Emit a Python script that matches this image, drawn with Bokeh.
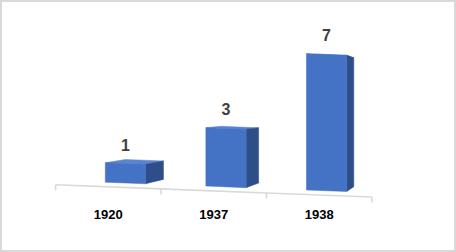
import numpy as np
from bokeh.plotting import figure
from bokeh.models import Range1d, FixedTicker, ColumnDataSource
from bokeh.embed import file_html
from bokeh.resources import INLINE
from bokeh.core.properties import value

# ---- data ----
categories = ["1920", "1937", "1938"]
counts = [1, 3, 7]

# ---- style (perspective of the 3-D look) ----
BAR_W = 0.40          # bar width in category units
TILT = 0.1995         # slope of the floor line (y units per category)
VP = (3.522, 4.135)   # vanishing point in data units
D_FRONT = 0.046       # depth fraction of bar front face
D_BACK = 0.0972       # depth fraction of bar back face
FRONT = "#4472C4"
SIDE = "#2E4E8A"
TOP = "#5A84CF"
GRID = "#D9D9D9"


def proj(x, y, d):
    return x + d * (VP[0] - x), y + d * (VP[1] - y)


def base(x):
    return -TILT * x


xs_front, ys_front, xs_side, ys_side, xs_top, ys_top = [], [], [], [], [], []
lab_x, lab_y = [], []
for i, v in enumerate(counts):
    xl, xr = i - BAR_W / 2, i + BAR_W / 2
    bl, br = base(xl), base(xr)
    tl, tr = bl + v, br + v
    f = [proj(xl, bl, D_FRONT), proj(xr, br, D_FRONT), proj(xr, tr, D_FRONT), proj(xl, tl, D_FRONT)]
    s = [proj(xr, br, D_FRONT), proj(xr, br, D_BACK), proj(xr, tr, D_BACK), proj(xr, tr, D_FRONT)]
    t = [proj(xl, tl, D_FRONT), proj(xr, tr, D_FRONT), proj(xr, tr, D_BACK), proj(xl, tl, D_BACK)]
    xs_front.append([p[0] for p in f]); ys_front.append([p[1] for p in f])
    xs_side.append([p[0] for p in s]); ys_side.append([p[1] for p in s])
    xs_top.append([p[0] for p in t]); ys_top.append([p[1] for p in t])
    cx, cy = proj(i, base(i) + v, D_FRONT)
    lab_x.append(cx); lab_y.append(cy)

p = figure(width=452, height=248, output_backend="svg", toolbar_location=None,
           x_range=Range1d(-1.0038, 3.3215), y_range=Range1d(-0.865, 9.035),
           y_axis_location=None, min_border_left=0, min_border_right=0,
           min_border_top=0, min_border_bottom=50)
p.styles = {"border": "2px solid #D9D9D9", "box-sizing": "content-box"}
p.grid.visible = False
p.outline_line_color = None
p.background_fill_color = "white"
p.border_fill_color = "white"

# floor line with category-boundary ticks
bounds = np.arange(len(categories) + 1) - 0.5
p.line(bounds, base(bounds), line_color=GRID, line_width=1.6)
p.segment(x0=bounds, y0=base(bounds), x1=bounds, y1=base(bounds) - 0.27,
          line_color=GRID, line_width=1.6)

p.patches(xs_top, ys_top, fill_color=TOP, line_color=TOP, line_width=0.5)
p.patches(xs_side, ys_side, fill_color=SIDE, line_color=SIDE, line_width=0.5)
p.patches(xs_front, ys_front, fill_color=FRONT, line_color=FRONT, line_width=0.5)

src = ColumnDataSource(dict(x=lab_x, y=lab_y, t=[str(c) for c in counts]))
p.text("x", "y", text="t", source=src, text_align="center", text_baseline="alphabetic",
       y_offset=-19, text_font=value("Liberation Sans"), text_font_style="bold",
       text_font_size="16px", text_color="#404040")

ax = p.xaxis[0]
ax.ticker = FixedTicker(ticks=list(range(len(categories))))
ax.major_label_overrides = {i: c for i, c in enumerate(categories)}
ax.axis_line_color = None
ax.major_tick_line_color = None
ax.minor_tick_line_color = None
ax.major_tick_out = 0
ax.major_tick_in = 0
ax.major_label_standoff = 5
ax.major_label_text_font = "Liberation Sans"
ax.major_label_text_font_style = "bold"
ax.major_label_text_font_size = "13px"
ax.major_label_text_color = "#000000"

open("out.html", "w").write(file_html(p, INLINE))
